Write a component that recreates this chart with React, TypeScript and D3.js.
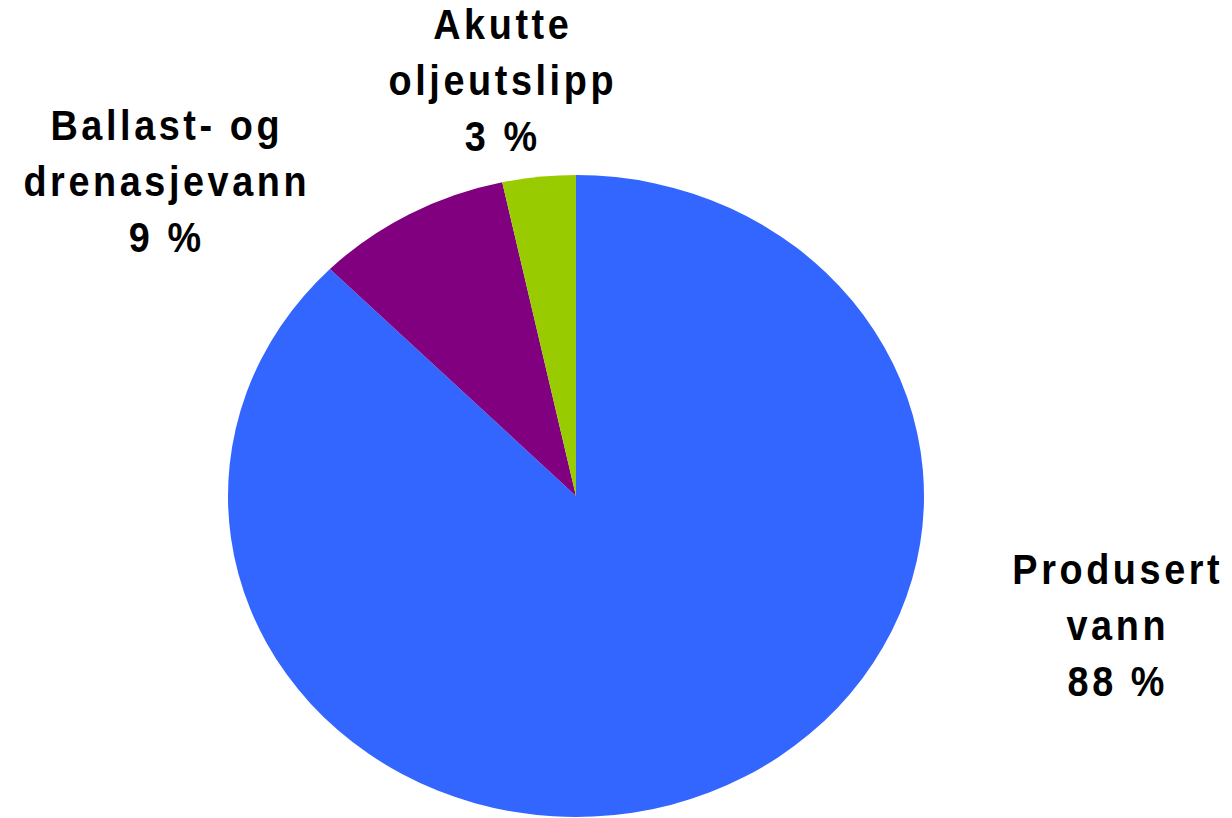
import React from "react";
import * as d3 from "d3";

const categories = ["Produsert vann", "Ballast- og drenasjevann", "Akutte oljeutslipp"];
const values = [87.5, 9.1, 3.4];
const labelLines = [
  ["Produsert", "vann", "88 %"],
  ["Ballast- og", "drenasjevann", "9 %"],
  ["Akutte", "oljeutslipp", "3 %"],
];
const colors = ["#3366FF", "#800080", "#99CC00"];

const W = 1232;
const H = 818;
const CX = 576;
const CY = 496;
const RX = 348;
const RY = 321;
// label centers (first-line baseline)
const labelPos = [
  { x: 1116, y: 584 },
  { x: 165, y: 140 },
  { x: 501, y: 39 },
];
const LINE = 56;
const SX = 0.9;
const LS = 4;

export default function App() {
  const pie = d3
    .pie<number>()
    .sort(null)
    .value((d) => d)
    .startAngle(0)
    .endAngle(2 * Math.PI);
  const arcs = pie(values);
  const arc = d3.arc<d3.PieArcDatum<number>>().innerRadius(0).outerRadius(RY);

  return (
    <svg
      width={W}
      height={H}
      style={{ position: "absolute", left: 0, top: 0, background: "#fff" }}
    >
      <g transform={`translate(${CX},${CY}) scale(${RX / RY},1)`}>
        {arcs.map((a, i) => (
          <path key={categories[i]} d={arc(a) || ""} fill={colors[i]} />
        ))}
      </g>
      {labelLines.map((lines, i) => (
        <g
          key={categories[i]}
          transform={`translate(${labelPos[i].x + (LS * SX) / 2},${labelPos[i].y}) scale(${SX},1)`}
        >
          <text
            textAnchor="middle"
            fontFamily="'Liberation Sans', Arial, sans-serif"
            fontWeight="bold"
            fontSize={42}
            letterSpacing={LS}
            fill="#000"
          >
            {lines.map((l, j) => (
              <tspan key={j} x={0} y={j * LINE}>
                {l}
              </tspan>
            ))}
          </text>
        </g>
      ))}
    </svg>
  );
}
